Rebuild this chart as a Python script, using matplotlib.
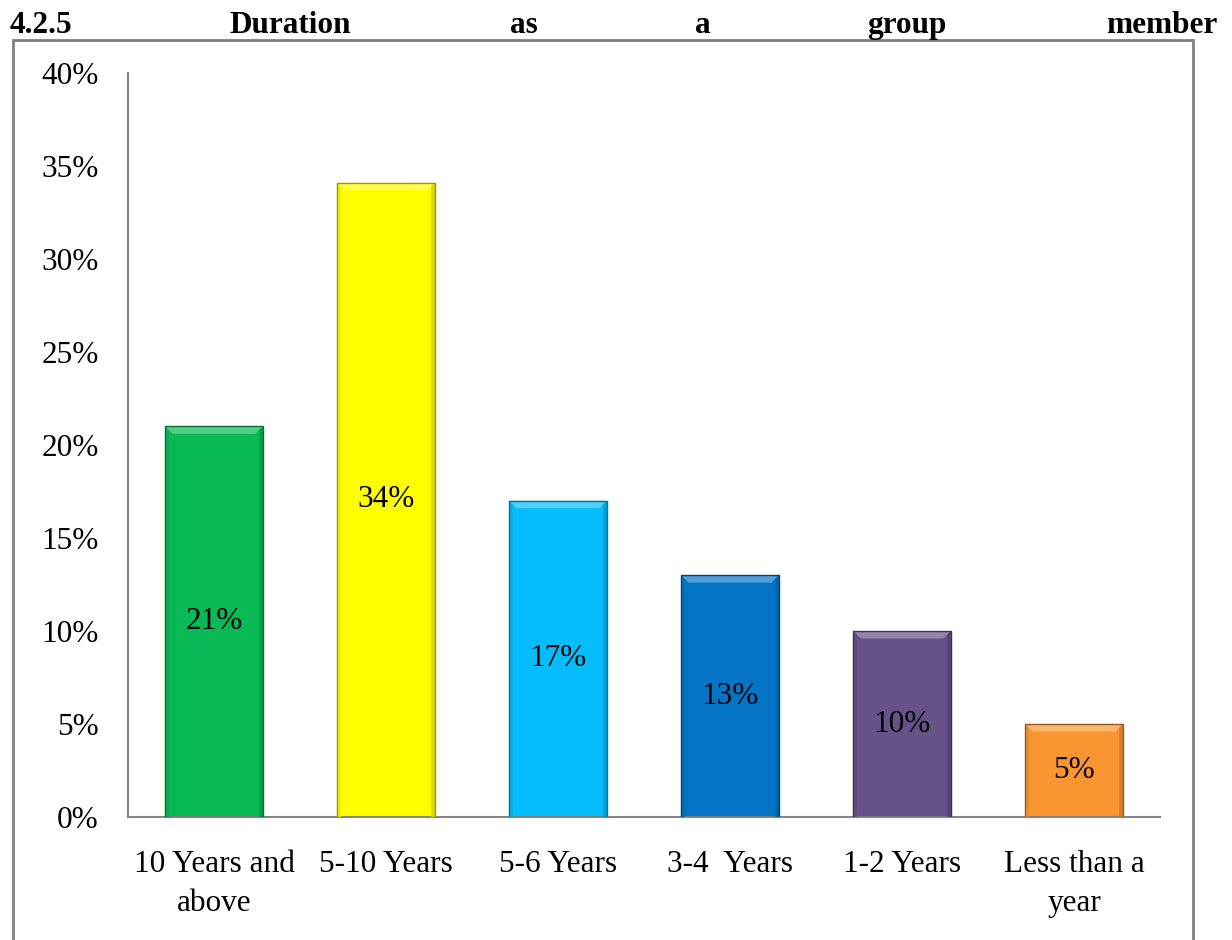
import matplotlib
matplotlib.use('Agg')
import matplotlib.pyplot as plt
from matplotlib.patches import Polygon, Rectangle
from matplotlib.ticker import FuncFormatter
import matplotlib.colors as mcolors
import numpy as np

plt.rcParams['font.family'] = ['Liberation Serif', 'DejaVu Serif']

categories = ['10 Years and\nabove', '5-10 Years', '5-6 Years', '3-4  Years', '1-2 Years', 'Less than a\nyear']
values = [21, 34.1, 17, 13, 10, 5]
labels = ['21%', '34%', '17%', '13%', '10%', '5%']
colors = ['#08B955', '#FFFF00', '#04BDFA', '#0474C6', '#675189', '#F99632']
title_words = ['4.2.5', 'Duration', 'as', 'a', 'group', 'member']
title_x = [10, 229, 510, 695, 867, 1217]


def shade(c, f):
    r, g, b = mcolors.to_rgb(c)
    if f > 0:
        return (r + (1 - r) * f, g + (1 - g) * f, b + (1 - b) * f)
    return (r * (1 + f), g * (1 + f), b * (1 + f))


fig = plt.figure(figsize=(12.32, 9.40), dpi=100)
ax = fig.add_axes([128 / 1232, 1 - 817 / 940, 1032 / 1232, 744 / 940])

x = np.arange(len(categories))
w = 0.57
bars = ax.bar(x, values, width=w, color=colors, edgecolor='none', zorder=2)

# bevel look
bx = 0.045
by = 0.4
for b, c in zip(bars, colors):
    x0 = b.get_x()
    x1 = x0 + b.get_width()
    h = b.get_height()
    top = Polygon([[x0, h], [x1, h], [x1 - bx, h - by], [x0 + bx, h - by]], closed=True,
                  facecolor=shade(c, 0.3), edgecolor='none', zorder=3)
    left = Polygon([[x0, 0], [x0, h], [x0 + bx * 0.5, h - by * 0.5], [x0 + bx * 0.5, 0]], closed=True,
                   facecolor=shade(c, -0.06), edgecolor='none', zorder=3)
    right = Polygon([[x1, 0], [x1, h], [x1 - bx * 0.5, h - by * 0.5], [x1 - bx * 0.5, 0]], closed=True,
                    facecolor=shade(c, -0.15), edgecolor='none', zorder=3)
    for p in (top, left, right):
        ax.add_patch(p)
    ax.add_patch(Rectangle((x0, 0), b.get_width(), h, fill=False,
                           edgecolor=shade(c, -0.4), linewidth=1.0, zorder=4))

for xi, v, lab in zip(x, values, labels):
    ax.text(xi, v / 2, lab, ha='center', va='center', fontsize=22.5, color='black', zorder=5)

ax.set_xlim(-0.5, len(categories) - 0.5)
ax.set_ylim(0, 40)
ax.set_yticks(np.arange(0, 41, 5))
ax.yaxis.set_major_formatter(FuncFormatter(lambda v, p: '%d%%' % v))
ax.set_xticks(x)
ax.set_xticklabels(categories, fontsize=22.5, linespacing=1.45)
ax.tick_params(axis='y', labelsize=22.5, length=0, pad=21)
ax.tick_params(axis='x', length=0, pad=24)

for s in ['top', 'right']:
    ax.spines[s].set_visible(False)
for s in ['left', 'bottom']:
    ax.spines[s].set_color('#868686')
    ax.spines[s].set_linewidth(1.5)

# outer frame
fig.patches.append(Rectangle((13 / 1232, -0.05), (1193 - 13) / 1232, 0.05 + 1 - 40 / 940,
                             transform=fig.transFigure, fill=False, edgecolor='#808080',
                             linewidth=2, clip_on=False))

for wd, px in zip(title_words, title_x):
    fig.text(px / 1232, 1 - 33 / 940, wd, ha='right' if wd == 'member' else 'left',
             va='baseline', fontsize=22.5, fontweight='bold')

fig.savefig('out.png', dpi=100)
